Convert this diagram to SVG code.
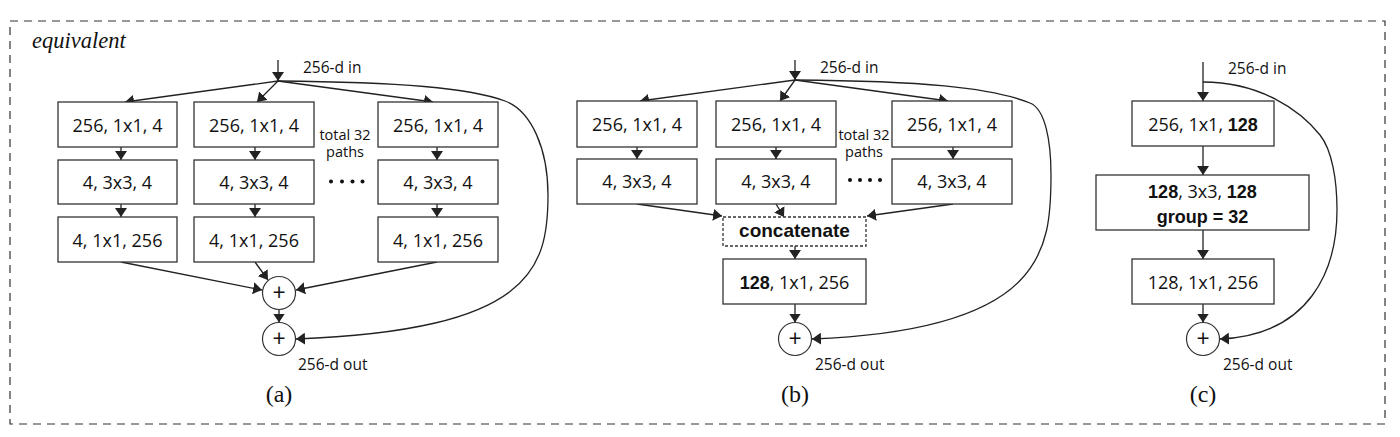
<svg xmlns="http://www.w3.org/2000/svg" width="1400" height="437" viewBox="0 0 1400 437">
<defs>
<marker id="ah" viewBox="0 0 9 12" refX="9" refY="6" markerWidth="9" markerHeight="12" markerUnits="userSpaceOnUse" orient="auto">
<path d="M0,0 L9,6 L0,12 z" fill="#222"/>
</marker>
<style>
.box{fill:#fff;stroke:#333;stroke-width:1.3}
.dbox{fill:#fff;stroke:#333;stroke-width:1.3;stroke-dasharray:3,2}
.sum{fill:#fff;stroke:#333;stroke-width:1.2}
.ln{fill:none;stroke:#222;stroke-width:1.3;marker-end:url(#ah)}
.t{font-family:"Open Sans","Noto Sans",sans-serif;font-size:18px;fill:#111;text-anchor:middle}
.b{font-family:"Liberation Sans",Arial,sans-serif;font-weight:bold;font-size:18px}
.lab{font-family:"Open Sans","Noto Sans",sans-serif;font-size:15.5px;fill:#111}
.tot{font-family:"Open Sans","Noto Sans",sans-serif;font-size:14.5px;fill:#111;text-anchor:middle}
.cap{font-family:"Liberation Serif","Times New Roman",serif;font-size:24px;fill:#111;text-anchor:middle}
.plus{font-family:"Open Sans","Noto Sans",sans-serif;font-size:23px;fill:#111;text-anchor:middle}
.dot{fill:#111}
</style>
</defs>
<rect x="10" y="21" width="1375" height="403" fill="none" stroke="#333" stroke-width="1.2" stroke-dasharray="8,6"/>
<text x="32" y="48" font-family="Liberation Serif,'Times New Roman',serif" font-style="italic" font-size="22.5" fill="#111">equivalent</text>

<g id="connectors">
<!-- panel a -->
<line class="ln" x1="278" y1="60" x2="278" y2="81"/>
<line class="ln" x1="278" y1="81" x2="125" y2="102"/>
<line class="ln" x1="278" y1="81" x2="257" y2="102"/>
<line class="ln" x1="278" y1="81" x2="433" y2="102"/>
<line class="ln" x1="121" y1="147" x2="121" y2="160"/>
<line class="ln" x1="121" y1="204" x2="121" y2="217"/>
<line class="ln" x1="255" y1="147" x2="255" y2="160"/>
<line class="ln" x1="255" y1="204" x2="255" y2="217"/>
<line class="ln" x1="437" y1="147" x2="437" y2="160"/>
<line class="ln" x1="437" y1="204" x2="437" y2="217"/>
<line class="ln" x1="121" y1="262" x2="262" y2="290"/>
<line class="ln" x1="255" y1="262" x2="268" y2="280"/>
<line class="ln" x1="437" y1="262" x2="296" y2="290"/>
<line class="ln" x1="279" y1="309.5" x2="279" y2="322.5"/>
<path class="ln" d="M278,81 C400,82 470,88 505,101 C532,111 548,150 548,195 C548,270 530,330 296,339"/>
<!-- panel b -->
<line class="ln" x1="795" y1="60" x2="795" y2="80"/>
<line class="ln" x1="795" y1="80" x2="640" y2="101"/>
<line class="ln" x1="795" y1="80" x2="780" y2="101"/>
<line class="ln" x1="795" y1="80" x2="948" y2="101"/>
<line class="ln" x1="637" y1="147" x2="637" y2="159"/>
<line class="ln" x1="776" y1="147" x2="776" y2="159"/>
<line class="ln" x1="953" y1="147" x2="953" y2="159"/>
<line class="ln" x1="637" y1="204" x2="722" y2="216"/>
<line class="ln" x1="776" y1="204" x2="784" y2="217"/>
<line class="ln" x1="953" y1="204" x2="867" y2="216"/>
<line class="ln" x1="795" y1="246" x2="795" y2="259"/>
<line class="ln" x1="795" y1="304" x2="795" y2="322.5"/>
<path class="ln" d="M795,80 C920,81 990,87 1030,103 C1045,109 1051,140 1051,175 C1051,250 1045,330 812,339"/>
<!-- panel c -->
<line class="ln" x1="1203" y1="62" x2="1203" y2="101"/>
<line class="ln" x1="1203" y1="146" x2="1203" y2="175"/>
<line class="ln" x1="1203" y1="230" x2="1203" y2="259"/>
<line class="ln" x1="1203" y1="304" x2="1203" y2="322.5"/>
<path class="ln" d="M1203,82 C1260,82 1300,110 1320,135 C1332,150 1337,180 1337,210 C1337,270 1310,335 1220,339"/>
</g>

<!-- panel a nodes -->
<g id="a-r1c1"><rect class="box" x="58" y="102" width="119" height="45"/><text class="t" x="117.5" y="132">256, 1x1, 4</text></g>
<g id="a-r2c1"><rect class="box" x="58" y="160" width="119" height="44"/><text class="t" x="117.5" y="189">4, 3x3, 4</text></g>
<g id="a-r3c1"><rect class="box" x="58" y="217" width="119" height="45"/><text class="t" x="117.5" y="247">4, 1x1, 256</text></g>
<g id="a-r1c2"><rect class="box" x="194" y="102" width="120" height="45"/><text class="t" x="254" y="132">256, 1x1, 4</text></g>
<g id="a-r2c2"><rect class="box" x="194" y="160" width="120" height="44"/><text class="t" x="254" y="189">4, 3x3, 4</text></g>
<g id="a-r3c2"><rect class="box" x="194" y="217" width="120" height="45"/><text class="t" x="254" y="247">4, 1x1, 256</text></g>
<g id="a-r1c3"><rect class="box" x="378" y="102" width="120" height="45"/><text class="t" x="438" y="132">256, 1x1, 4</text></g>
<g id="a-r2c3"><rect class="box" x="378" y="160" width="120" height="44"/><text class="t" x="438" y="189">4, 3x3, 4</text></g>
<g id="a-r3c3"><rect class="box" x="378" y="217" width="120" height="45"/><text class="t" x="438" y="247">4, 1x1, 256</text></g>
<g id="a-note"><text class="tot" x="345" y="140">total 32</text><text class="tot" x="345" y="157">paths</text>
<circle class="dot" cx="331" cy="181.5" r="2"/><circle class="dot" cx="342" cy="181.5" r="2"/><circle class="dot" cx="352.5" cy="181.5" r="2"/><circle class="dot" cx="362.5" cy="181.5" r="2"/></g>
<g id="a-sum1"><circle class="sum" cx="279" cy="293" r="16.5"/><text class="plus" x="279" y="301">+</text></g>
<g id="a-sum2"><circle class="sum" cx="279" cy="339" r="16.5"/><text class="plus" x="279" y="347">+</text></g>
<g id="a-labels"><text class="lab" x="303" y="73">256-d in</text><text class="lab" x="298" y="370">256-d out</text><text class="cap" x="279" y="402">(a)</text></g>

<!-- panel b nodes -->
<g id="b-r1c1"><rect class="box" x="577" y="101" width="120" height="46"/><text class="t" x="637" y="131">256, 1x1, 4</text></g>
<g id="b-r2c1"><rect class="box" x="577" y="159" width="120" height="45"/><text class="t" x="637" y="188">4, 3x3, 4</text></g>
<g id="b-r1c2"><rect class="box" x="716" y="101" width="120" height="46"/><text class="t" x="776" y="131">256, 1x1, 4</text></g>
<g id="b-r2c2"><rect class="box" x="716" y="159" width="120" height="45"/><text class="t" x="776" y="188">4, 3x3, 4</text></g>
<g id="b-r1c3"><rect class="box" x="892" y="101" width="120" height="46"/><text class="t" x="952" y="131">256, 1x1, 4</text></g>
<g id="b-r2c3"><rect class="box" x="892" y="159" width="120" height="45"/><text class="t" x="952" y="188">4, 3x3, 4</text></g>
<g id="b-note"><text class="tot" x="864" y="140">total 32</text><text class="tot" x="864" y="157">paths</text>
<circle class="dot" cx="850" cy="180" r="2"/><circle class="dot" cx="860" cy="180" r="2"/><circle class="dot" cx="870" cy="180" r="2"/><circle class="dot" cx="880" cy="180" r="2"/></g>
<g id="b-concat"><rect class="dbox" x="723" y="217" width="143" height="29"/><text class="t b" x="794.5" y="237" style="font-size:19px">concatenate</text></g>
<g id="b-conv"><rect class="box" x="723" y="259" width="143" height="45"/><text class="t" x="794.5" y="289"><tspan class="b">128</tspan>, 1x1, 256</text></g>
<g id="b-sum"><circle class="sum" cx="795" cy="339" r="16.5"/><text class="plus" x="795" y="347">+</text></g>
<g id="b-labels"><text class="lab" x="820" y="73">256-d in</text><text class="lab" x="815" y="370">256-d out</text><text class="cap" x="795" y="402">(b)</text></g>

<!-- panel c nodes -->
<g id="c-conv1"><rect class="box" x="1132" y="101" width="142" height="45"/><text class="t" x="1203" y="131">256, 1x1, <tspan class="b">128</tspan></text></g>
<g id="c-conv2"><rect class="box" x="1096" y="175" width="213" height="55"/><text class="t" x="1202.5" y="198"><tspan class="b">128</tspan>, 3x3, <tspan class="b">128</tspan></text><text class="t b" x="1202.5" y="223">group = 32</text></g>
<g id="c-conv3"><rect class="box" x="1132" y="259" width="142" height="45"/><text class="t" x="1203" y="289">128, 1x1, 256</text></g>
<g id="c-sum"><circle class="sum" cx="1203" cy="339" r="16.5"/><text class="plus" x="1203" y="347">+</text></g>
<g id="c-labels"><text class="lab" x="1228" y="74">256-d in</text><text class="lab" x="1223" y="370">256-d out</text><text class="cap" x="1203" y="402">(c)</text></g>
</svg>
